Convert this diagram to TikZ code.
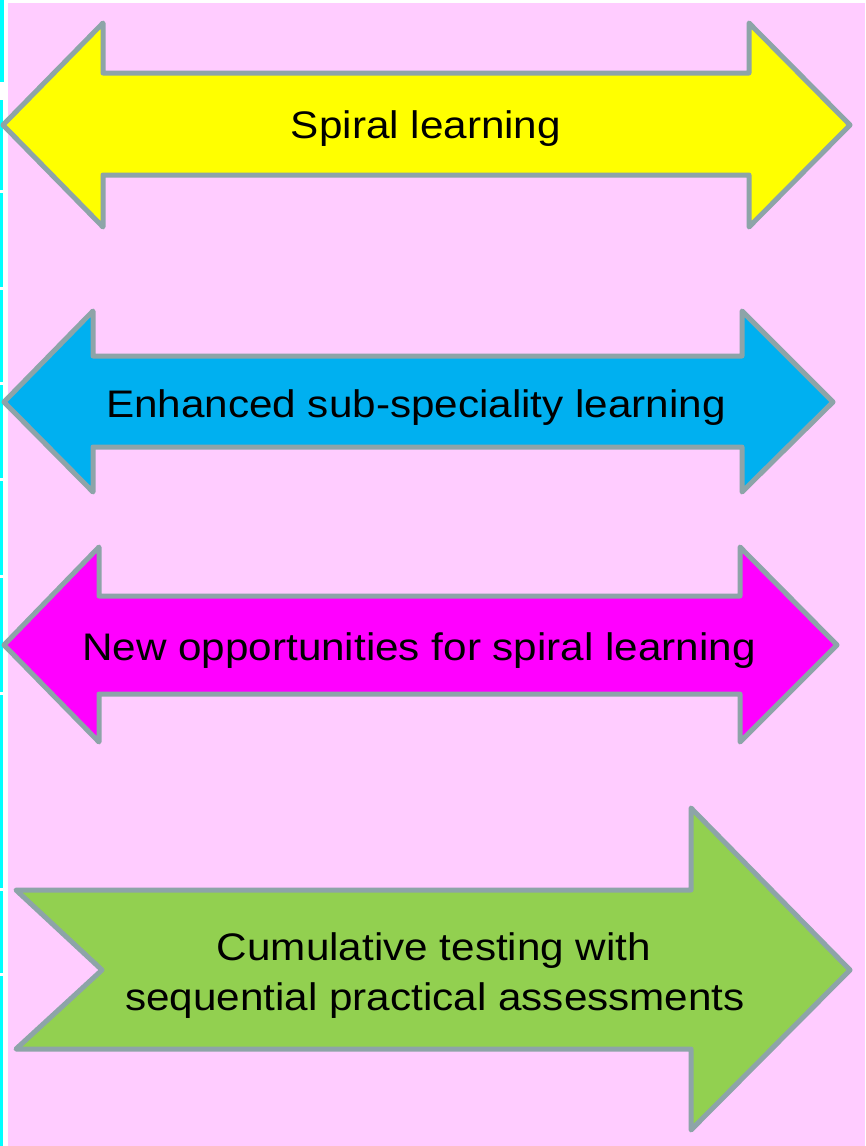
\documentclass[tikz,border=0pt]{standalone}
\usepackage{fontspec}
\setmainfont{Liberation Sans}[FakeStretch=1.1]
\definecolor{bgpink}{HTML}{FFCCFF}
\definecolor{edgecyan}{HTML}{00FFFF}
\definecolor{rim}{HTML}{8DA4A8}
\definecolor{ayellow}{HTML}{FFFF00}
\definecolor{ablue}{HTML}{00B0F0}
\definecolor{amagenta}{HTML}{FF00FF}
\definecolor{agreen}{HTML}{92D050}
\begin{document}
\begin{tikzpicture}[x=1pt,y=-1pt,
  arrowshape/.style={draw=rim,line width=5pt,line join=round},
  label/.style={inner sep=0pt,anchor=base,text=black,font=\fontsize{38.4pt}{50pt}\selectfont}]
\useasboundingbox (0,0) rectangle (865,1146);
% background
\fill[white] (0,0) rectangle (865,1146);
\fill[bgpink] (8,3) rectangle (865,1146);
% cyan edge strip
\fill[edgecyan] (0,0) rectangle (4,82);
\fill[edgecyan] (0,100) rectangle (2.5,1146);
\foreach \g in {190,287,382,478,575,692,888,973}
  \fill[white] (0,\g) rectangle (2.5,\g+3);
% arrows
\draw[arrowshape,fill=ayellow] (3,125) -- (103,23) -- (103,73) -- (749,73) -- (749,23) -- (850,125)
  -- (749,227) -- (749,175) -- (103,175) -- (103,227) -- cycle;
\draw[arrowshape,fill=ablue] (4,402) -- (93,311) -- (93,356) -- (742,356) -- (742,311) -- (833,402)
  -- (742,492) -- (742,447) -- (93,447) -- (93,492) -- cycle;
\draw[arrowshape,fill=amagenta] (4,645) -- (99,547) -- (99,596) -- (740,596) -- (740,547) -- (837,645)
  -- (740,742) -- (740,694) -- (99,694) -- (99,742) -- cycle;
\draw[arrowshape,fill=agreen] (16,890) -- (691,890) -- (691,808) -- (850,970) -- (691,1130)
  -- (691,1049) -- (16,1049) -- (102,970) -- cycle;
% labels
\node[label] (t1) at (426,138) {Spiral learning};
\node[label] (t2) at (416,417) {Enhanced sub-speciality learning};
\node[label] (t3) at (419,660) {New opportunities for spiral learning};
\node[label] (t4a) at (434,960) {Cumulative testing with};
\node[label] (t4b) at (435,1010) {sequential practical assessments};
\end{tikzpicture}
\end{document}
